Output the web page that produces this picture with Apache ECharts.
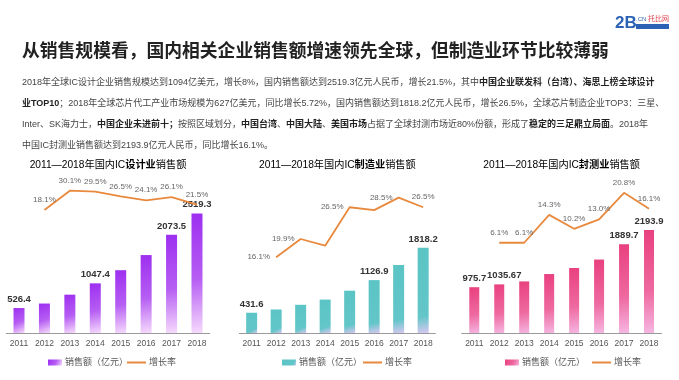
<!DOCTYPE html>
<html><head><meta charset="utf-8">
<script src="https://cdn.jsdelivr.net/npm/echarts@6/dist/echarts.min.js"></script>
<style>html,body{margin:0;padding:0;background:#fff}#c{width:679px;height:380px}</style>
</head><body><div id="c"></div>
<script>
const years = ['2011','2012','2013','2014','2015','2016','2017','2018'];
const designSales = [526.4, 621.7, 808.8, 1047.4, 1325.0, 1644.3, 2073.5, 2519.3];
const designGrowth = [null, 18.1, 30.1, 29.5, 26.5, 24.1, 26.1, 21.5];
const mfgSales = [431.6, 501.1, 600.8, 712.1, 900.8, 1126.9, 1448.1, 1818.2];
const mfgGrowth = [null, 16.1, 19.9, 18.5, 26.5, 25.9, 28.5, 26.5];
const testSales = [975.7, 1035.67, 1098.9, 1255.9, 1384.0, 1564.3, 1889.7, 2193.9];
const testGrowth = [null, 6.1, 6.1, 14.3, 10.2, 13.0, 20.8, 16.1];

const designBarLabelYears = ['2011','2014','2017','2018'];
const mfgBarLabelYears = ['2011','2016','2018'];
const testBarLabelYears = ['2011','2012','2017','2018'];
const mfgGrowthLabelYears = ['2012','2013','2015','2017','2018'];

const chartTitles = [['2011—2018年国内IC','设计业','销售额'],['2011—2018年国内IC','制造业','销售额'],['2011—2018年国内IC','封测业','销售额']];
const barName = '销售额（亿元）';
const lineName = '增长率';
const mainTitle = '从销售规模看，国内相关企业销售额增速领先全球，但制造业环节比较薄弱';
const paraLines = [
  [['n','2018年全球IC设计企业销售规模达到1094亿美元，增长8%，国内销售额达到2519.3亿元人民币，增长21.5%，其中'],['b','中国企业联发科（台湾）、海思上榜全球设计']],
  [['b','业TOP10'],['n','；2018年全球芯片代工产业市场规模为627亿美元，同比增长5.72%，国内销售额达到1818.2亿元人民币，增长26.5%，全球芯片制造企业TOP3：三星、']],
  [['n','Inter、SK海力士，'],['b','中国企业未进前十；'],['n','按照区域划分，'],['b','中国台湾'],['n','、'],['b','中国大陆'],['n','、'],['b','美国市场'],['n','占据了全球封测市场近80%份额，形成了'],['b','稳定的三足鼎立局面'],['n','。2018年']],
  [['n','中国IC封测业销售额达到2193.9亿元人民币，同比增长16.1%。']]
];

const FF = "'Liberation Sans','Noto Sans CJK SC',sans-serif";
const G = echarts.graphic;
const grads = [
  new G.LinearGradient(0,0,1,1,[{offset:0,color:'#9d2ff0'},{offset:0.55,color:'#b65ef3'},{offset:1,color:'#f6dafc'}]),
  new G.LinearGradient(0,0,1,1,[{offset:0,color:'#5bc4c5'},{offset:0.8,color:'#63c6c8'},{offset:1,color:'#d6c8f2'}]),
  new G.LinearGradient(0,0,1,1,[{offset:0,color:'#e9407f'},{offset:0.6,color:'#ee6aa0'},{offset:1,color:'#f6b6e2'}])
];
const gridDefs = [
  {left:6.3, width:203.4, barMax:3861, lmin:-58.4, lmax:55.4, bw:11},
  {left:239.4, width:196, barMax:3898, lmin:0.36, lmax:38.4, bw:11},
  {left:461.8, width:199.7, barMax:3898, lmin:-20.46, lmax:33.4, bw:10}
];
const salesSets = [designSales, mfgSales, testSales];
const growthSets = [designGrowth, mfgGrowth, testGrowth];
const barLabelSets = [designBarLabelYears, mfgBarLabelYears, testBarLabelYears];

const grid=[], xAxis=[], yAxis=[], series=[], legend=[], graphic=[];
gridDefs.forEach((g,i)=>{
  grid.push({left:g.left, width:g.width, top:150, height:183});
  xAxis.push({type:'category', gridIndex:i, data:years,
    axisLine:{lineStyle:{color:'#9a9a9a',width:1}}, axisTick:{show:false},
    axisLabel:{color:'#555', fontSize:8.5, margin:6, interval:0, fontFamily:FF}});
  yAxis.push({type:'value', gridIndex:i, min:0, max:g.barMax, show:false, splitLine:{show:false}});
  yAxis.push({type:'value', gridIndex:i, min:g.lmin, max:g.lmax, show:false, splitLine:{show:false}});
  const bn = barName + '\u200b'.repeat(i), ln = lineName + '\u200b'.repeat(i);
  series.push({type:'bar', name:bn, xAxisIndex:i, yAxisIndex:2*i, barWidth:g.bw,
    itemStyle:{color:grads[i]},
    data: salesSets[i].map((v,k)=>{
      const show = barLabelSets[i].includes(years[k]);
      const o = {value:v, label:{show:show}};
      if(i===2 && k===1) o.label.offset=[5,0];
      return o;
    }),
    label:{position:'top', distance:4, color:'#333', fontWeight:'bold', fontSize:9.5, fontFamily:FF}
  });
  series.push({type:'line', name:ln, xAxisIndex:i, yAxisIndex:2*i+1,
    symbol:'circle', symbolSize:0.1, itemStyle:{color:'#e8893d'},
    lineStyle:{color:'#e8893d', width:1.8},
    data: growthSets[i].map((v,k)=>{
      if(v===null) return '-';
      let show = true, pos='top';
      if(i===1){ show = mfgGrowthLabelYears.includes(years[k]); pos = years[k]==='2018' ? 'top':'left'; }
      return {value:v, label:{show:show, position:pos}};
    }),
    label:{color:'#666', fontSize:8, distance:6, fontFamily:FF, formatter:p=>p.value.toFixed(1)+'%'}
  });
  graphic.push({type:'text', x:g.left+g.width/2, y:165, style:{
    text:'{n|'+chartTitles[i][0]+'}{b|'+chartTitles[i][1]+'}{n|'+chartTitles[i][2]+'}',
    textAlign:'center', textVerticalAlign:'middle',
    rich:{n:{fontSize:10.2,color:'#555',fontFamily:FF},b:{fontSize:10.2,color:'#555',fontWeight:'bold',fontFamily:FF}}}});
});
const legPos = [[43,122],[277,358],[500,587]];
legPos.forEach((p,i)=>{
  legend.push({left:p[0], top:353, itemWidth:14, itemHeight:6, itemGap:4, data:[barName+'\u200b'.repeat(i)],
    icon:'rect', textStyle:{fontSize:9, color:'#555', fontFamily:FF, padding:[0,0,0,-2]}, selectedMode:false});
  legend.push({left:p[1], top:353, itemWidth:19, itemHeight:2, itemGap:4, data:[lineName+'\u200b'.repeat(i)],
    icon:'rect', textStyle:{fontSize:9, color:'#555', fontFamily:FF, padding:[0,0,0,-2]}, selectedMode:false});
});

graphic.push({type:'text', x:22, y:52, style:{text:mainTitle, fontSize:17.8, fontWeight:'bold', fill:'#222', fontFamily:FF, textVerticalAlign:'middle'}});
const paraY = [83,104,125,146];
paraLines.forEach((line,li)=>{
  graphic.push({type:'text', x:22, y:paraY[li], style:{
    text: line.map(s=>'{'+s[0]+'|'+s[1]+'}').join(''),
    textVerticalAlign:'middle',
    rich:{n:{fontSize:9,fill:'#444',fontFamily:FF}, b:{fontSize:9,fill:'#222',fontWeight:'bold',fontFamily:FF}}}});
});
// logo
graphic.push({type:'text', x:615, y:23, style:{text:'2B', fontSize:17, fontWeight:'bold', fill:'#2c62b5', fontFamily:FF, textVerticalAlign:'middle'}});
graphic.push({type:'text', x:636, y:19, style:{text:'.CN', fontSize:6, fill:'#2c62b5', fontFamily:FF, textVerticalAlign:'middle'}});
graphic.push({type:'text', x:648, y:19, style:{text:'托比网', fontSize:7, fill:'#e0404a', fontFamily:FF, textVerticalAlign:'middle'}});
graphic.push({type:'rect', shape:{x:636, y:24, width:33, height:5}, style:{fill:'#2c62b5'}});

const chart = echarts.init(document.getElementById('c'));
chart.setOption({animation:false, textStyle:{fontFamily:FF}, grid, xAxis, yAxis, series, legend, graphic});
</script></body></html>
